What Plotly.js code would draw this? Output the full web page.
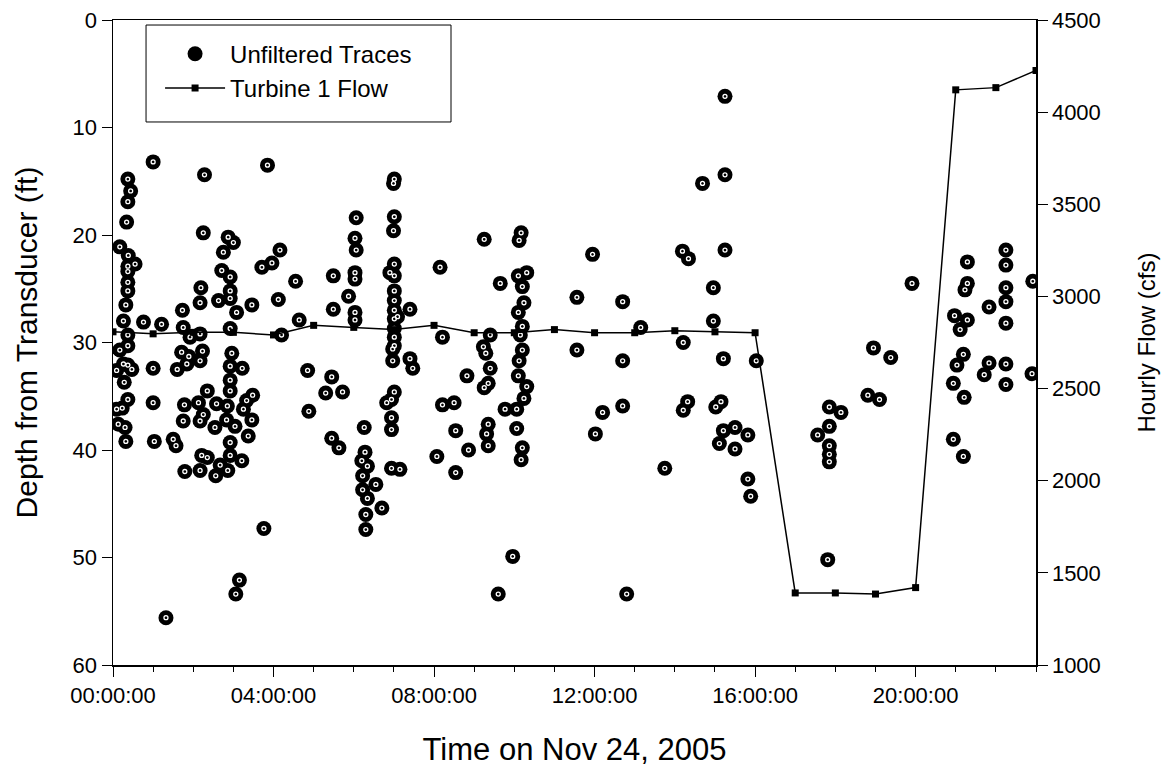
<!DOCTYPE html>
<html><head><meta charset="utf-8">
<script src="https://cdn.plot.ly/plotly-3.0.1.min.js"></script>
<style>html,body{margin:0;padding:0;background:#fff}#chart{width:1170px;height:776px}</style>
</head><body><div id="chart"></div>
<script>
// Unfiltered trace detections: time (hours after 00:00 on Nov 24, 2005) and depth (ft)
const traceHours = [
 0.09,0.09,0.13,0.17,0.17,0.23,0.26,0.26,0.28,0.30,0.32,0.32,0.34,0.37,0.37,0.37,0.37,0.37,0.37,0.37,0.37,0.37,0.37,0.38,0.44,0.47,0.55,0.76,
 1.00,1.00,1.00,1.03,1.21,1.32,1.50,1.57,1.60,1.71,1.73,1.75,1.75,1.78,1.79,1.84,1.89,1.92,
 2.13,2.17,2.17,2.17,2.17,2.17,2.19,2.21,2.23,2.25,2.25,2.28,2.35,2.35,2.54,2.56,2.58,2.63,2.67,2.71,2.75,2.83,2.85,2.86,2.87,
 2.92,2.92,2.92,2.92,2.92,2.92,2.92,2.92,2.92,2.96,3.00,3.04,3.06,3.08,3.15,3.21,3.22,3.25,3.33,3.37,3.46,3.46,3.48,3.71,3.76,3.85,3.96,
 4.12,4.16,4.20,4.55,4.64,4.85,4.88,5.30,5.45,5.45,5.49,5.49,5.63,5.72,5.87,
 6.03,6.03,6.03,6.03,6.03,6.06,6.06,6.20,6.22,6.22,6.26,6.28,6.30,6.30,6.34,6.34,6.55,6.70,6.82,6.90,6.94,6.94,6.94,6.94,6.97,6.97,6.99,6.99,
 7.01,7.01,7.01,7.01,7.01,7.01,7.01,7.01,7.01,7.01,7.01,7.01,7.09,7.15,7.40,7.40,7.47,
 8.07,8.15,8.21,8.21,8.50,8.54,8.54,8.82,8.86,9.25,9.23,9.29,9.25,9.35,9.35,9.31,9.35,9.40,9.40,9.60,9.65,9.77,9.96,
 10.06,10.06,10.10,10.10,10.10,10.12,10.12,10.15,10.17,10.17,10.20,10.20,10.20,10.20,10.24,10.24,10.31,10.31,
 11.56,11.56,11.95,12.02,12.20,12.70,12.70,12.70,12.80,13.15,13.75,
 14.19,14.21,14.21,14.32,14.34,14.69,14.96,14.96,15.02,15.11,15.15,15.21,15.21,15.25,15.25,15.25,15.50,15.50,15.82,15.82,15.89,16.03,
 17.56,17.81,17.85,17.85,17.85,17.85,17.85,18.14,18.81,18.95,19.10,19.38,19.91,
 20.94,20.94,20.97,21.03,21.11,21.19,21.19,21.21,21.23,21.29,21.29,21.29,21.71,21.83,21.83,
 22.25,22.25,22.25,22.25,22.25,22.25,22.25,22.90,22.92
];
const traceDepths = [
 32.6,36.2,37.6,21.1,30.7,36.1,28.0,32.0,33.7,37.9,26.5,39.2,18.8,14.8,16.9,23.4,24.4,25.2,29.3,30.3,32.1,35.3,22.9,21.9,15.9,32.5,22.7,28.1,
 13.2,32.4,35.6,39.2,28.3,55.6,39.0,39.6,32.5,30.9,27.0,28.6,37.3,35.8,42.0,32.0,31.3,29.5,
 35.6,26.3,29.2,31.7,37.3,41.9,24.9,40.5,30.8,19.8,36.7,14.4,34.5,40.7,37.9,42.4,35.7,26.1,41.4,23.3,21.6,37.2,35.9,41.9,20.2,
 23.9,25.2,25.9,28.7,32.2,33.5,34.5,39.3,40.5,31.0,20.7,37.8,53.4,27.2,52.1,41.0,32.4,36.2,35.4,38.7,26.5,37.2,34.9,23.0,47.3,13.5,22.6,
 26.0,21.4,29.3,24.3,27.9,32.6,36.4,34.7,33.2,38.9,23.8,26.9,39.8,34.6,25.7,
 20.3,23.5,24.1,27.2,27.9,18.4,21.4,41.0,42.4,43.7,37.9,40.2,46.0,47.4,41.5,44.5,43.2,45.4,35.6,23.5,35.3,37.0,38.1,41.7,30.6,31.7,15.2,19.6,
 14.8,18.3,34.6,22.7,23.8,25.2,26.1,27.0,27.8,28.7,29.5,30.3,27.6,41.8,26.9,31.5,32.4,
 40.6,23.0,29.5,35.8,35.6,38.2,42.1,33.1,40.0,20.4,30.4,31.0,34.2,33.8,37.6,38.5,39.6,29.3,32.4,53.4,24.5,36.2,49.9,
 36.2,38.0,23.8,27.2,33.1,20.5,31.7,29.3,19.8,40.9,24.8,28.5,30.7,39.8,26.3,35.2,23.5,34.1,
 25.8,30.7,21.8,38.5,36.5,26.2,31.7,35.9,53.4,28.6,41.7,
 21.5,30.0,36.3,35.5,22.2,15.2,24.9,28.0,36.0,39.4,35.5,31.5,38.2,7.1,14.4,21.4,37.9,39.9,38.6,42.7,44.3,31.7,
 38.6,50.2,36.0,37.8,39.6,40.4,41.1,36.5,34.9,30.5,35.3,31.4,24.5,
 33.8,39.0,27.5,32.1,28.8,31.1,40.6,35.1,25.1,22.5,24.5,27.9,33.0,26.7,31.9,
 21.4,22.8,24.9,26.2,28.2,32.0,33.9,32.9,24.3
];
// Turbine 1 hourly flow (cfs)
const flowHours = [0,1,2,3,4,5,6,7,8,9,10,11,12,13,14,15,16,17,18,19,20,21,22,23];
const flowValues = [2808,2797,2805,2805,2791,2843,2832,2820,2843,2803,2803,2820,2803,2803,2814,2808,2803,1391,1391,1385,1420,4121,4133,4226];
// Axis ticks
const xTickVals = [0,4,8,12,16,20];
const xTickText = ['00:00:00','04:00:00','08:00:00','12:00:00','16:00:00','20:00:00'];
const xMinorVals = [0,1,2,3,4,5,6,7,8,9,10,11,12,13,14,15,16,17,18,19,20,21,22,23];

const FONT = 'Liberation Sans, Arial, sans-serif';

const traces = [
  {x: traceHours, y: traceDepths, type: 'scatter', mode: 'markers', name: 'Unfiltered Traces',
   marker: {size: 15, color: '#000', line: {width: 0}}, yaxis: 'y', hoverinfo: 'x+y'},
  {x: traceHours, y: traceDepths, type: 'scatter', mode: 'markers', showlegend: false,
   marker: {symbol: 'circle-open', size: 4, color: '#fff', line: {width: 1.3, color: '#fff'}}, yaxis: 'y', hoverinfo: 'skip'},
  {x: flowHours, y: flowValues, type: 'scatter', mode: 'lines+markers', name: 'Turbine 1 Flow', yaxis: 'y2',
   line: {color: '#000', width: 1.5}, marker: {symbol: 'square', size: 7, color: '#000'}}
];

const layout = {
  width: 1170, height: 776,
  margin: {l: 113, r: 134, t: 20, b: 111},
  paper_bgcolor: '#fff', plot_bgcolor: '#fff',
  font: {family: FONT, color: '#000'},
  showlegend: true,
  legend: {x: 0.051, y: 0.982, xanchor: 'left', yanchor: 'top', bgcolor: 'rgba(0,0,0,0)',
           borderwidth: 0, font: {size: 24, family: FONT}, itemwidth: 60, tracegroupgap: 0},
  shapes: [{type: 'rect', xref: 'paper', yref: 'paper', x0: 0.0358, x1: 0.3662, y0: 0.8419, y1: 0.9922,
            line: {color: '#000', width: 1}, fillcolor: 'rgba(0,0,0,0)'}],
  xaxis: {range: [0, 23], tickmode: 'array', tickvals: xTickVals, ticktext: xTickText,
          ticks: 'outside', ticklen: 10, tickwidth: 1, tickcolor: '#000',
          minor: {tickmode: 'array', tickvals: xMinorVals, ticks: 'outside', ticklen: 5, tickcolor: '#000', showgrid: false},
          showline: true, linewidth: 1.5, linecolor: '#000', mirror: true,
          showgrid: false, zeroline: false, tickfont: {size: 22, family: FONT},
          title: {text: 'Time on Nov 24, 2005', font: {size: 31, family: FONT}, standoff: 31}},
  yaxis: {range: [60, 0], tick0: 0, dtick: 10, ticks: 'outside', ticklen: 10, tickcolor: '#000',
          showline: true, linewidth: 1.5, linecolor: '#000', showgrid: false, zeroline: false,
          tickfont: {size: 22, family: FONT},
          title: {text: 'Depth from Transducer (ft)', font: {size: 30, family: FONT}, standoff: 26}},
  yaxis2: {overlaying: 'y', side: 'right', range: [1000, 4500], tick0: 1000, dtick: 500,
           ticks: 'outside', ticklen: 10, tickcolor: '#000',
           showline: true, linewidth: 1.5, linecolor: '#000', showgrid: false, zeroline: false,
           tickfont: {size: 22, family: FONT},
           title: {text: 'Hourly Flow (cfs)', font: {size: 24, family: FONT}, standoff: 38}}
};

Plotly.newPlot('chart', traces, layout, {displayModeBar: false, staticPlot: true});
</script>
</body></html>
